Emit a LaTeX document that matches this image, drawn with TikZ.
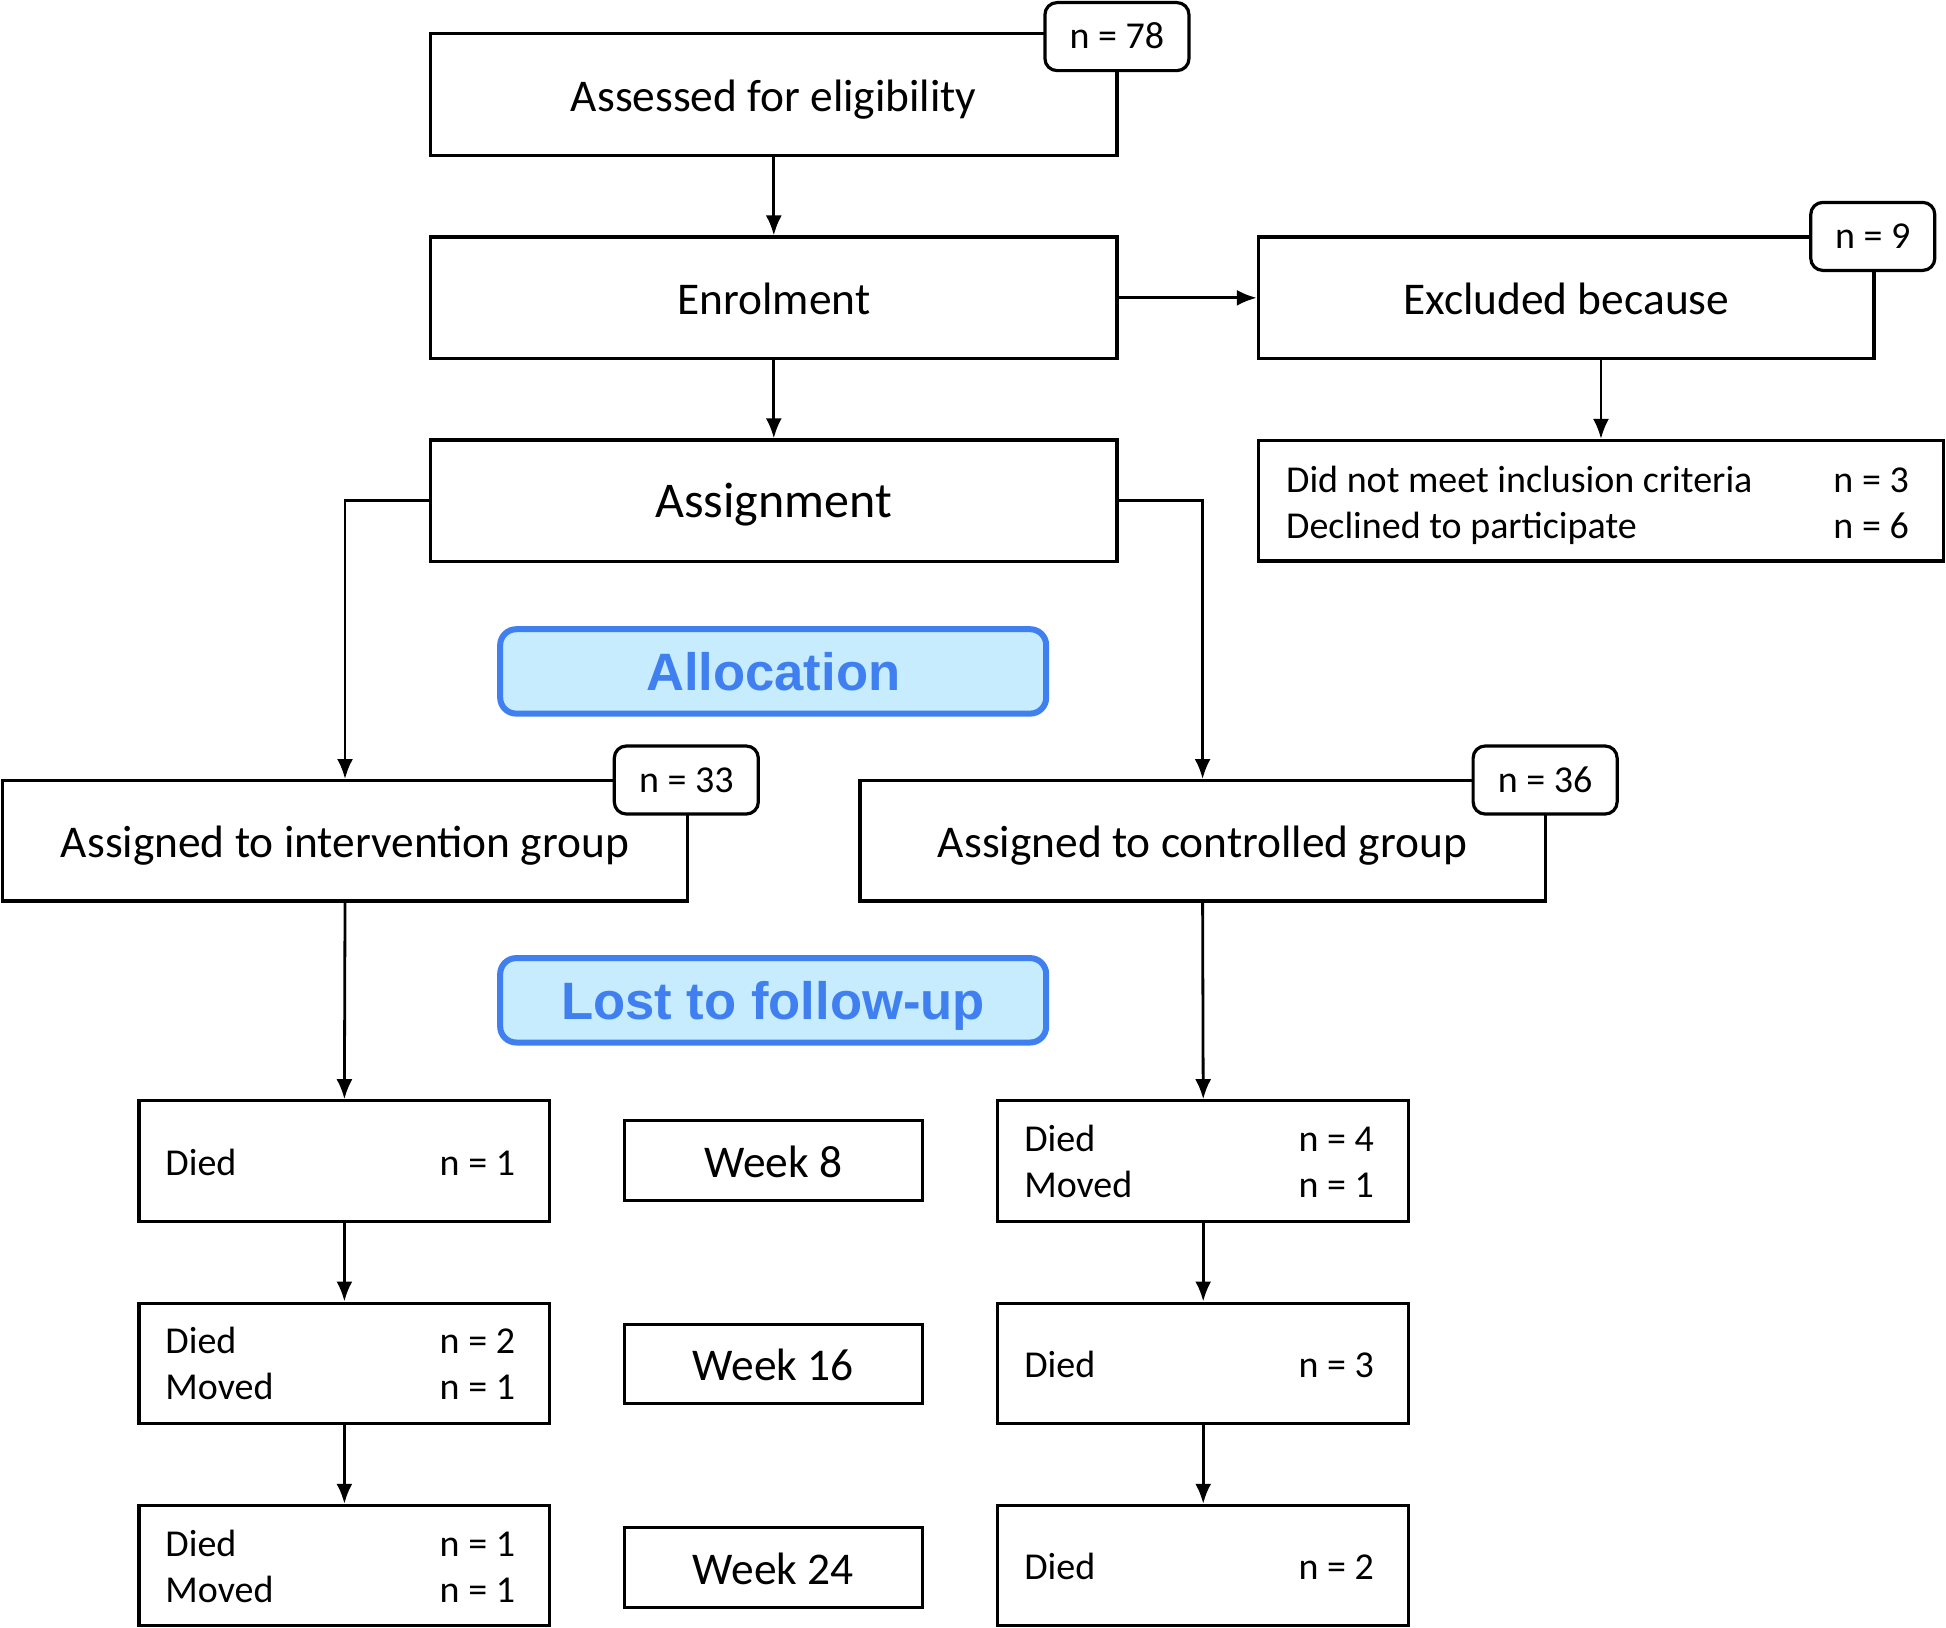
\documentclass[tikz,border=0pt]{standalone}
\usepackage{fontspec}
\setmainfont{Carlito}
\newfontfamily\arialfam{Liberation Sans}
\usetikzlibrary{arrows.meta}
\definecolor{allocblue}{HTML}{3F7FEF}
\definecolor{allocfill}{HTML}{C6ECFD}
\begin{document}
\begin{tikzpicture}[x=0.6205pt,y=-0.6205pt,
  box/.style={draw, line width=1.6pt, fill=white, inner sep=0pt},
  big/.style={font=\fontsize{22.7}{27}\selectfont, text height=17pt, text depth=0pt},
  bigger/.style={font=\fontsize{25}{30}\selectfont, text height=17pt, text depth=0pt},
  small/.style={font=\fontsize{19}{23}\selectfont, text height=12.2pt, text depth=0pt},
  mainbox/.style={box, big, minimum width=343.1pt, minimum height=60.8pt},
  groupbox/.style={box, big, minimum width=342.5pt, minimum height=60.2pt},
  lossbox/.style={box, minimum width=205.4pt, minimum height=60.2pt},
  weekbox/.style={box, big, minimum width=148.9pt, minimum height=39.7pt},
  badge/.style={draw, line width=1.6pt, fill=white, rounded corners=6pt, minimum width=72pt, minimum height=34pt, inner sep=0pt, small},
  lbl/.style={anchor=west, inner sep=0pt, small},
  arr/.style={line width=1.4pt, -{Latex[length=10pt,width=8pt]}},
  banner/.style={draw=allocblue, fill=allocfill, line width=3pt, rounded corners=8pt, minimum width=273pt, minimum height=42.2pt, text=allocblue, inner sep=0pt, text height=18.8pt, text depth=0pt, font=\arialfam\bfseries\fontsize{26.3}{31}\selectfont}]
\useasboundingbox (0,0) rectangle (1568,1311);

% top column
\node[mainbox] (assess) at (623.5,76) {Assessed for eligibility};
\node[mainbox] (enrol) at (623.5,240) {Enrolment};
\node[mainbox, bigger] (assign) at (623.5,403.5) {Assignment};
\node[box, big, minimum width=307.8pt, minimum height=60.8pt] (excl) at (1262,240) {Excluded because};
\node[box, minimum width=342.5pt, minimum height=60.2pt] (crit) at (1290,403.5) {};
\node[lbl] (critA) at (1036,387) {Did not meet inclusion criteria};
\node[lbl] (critAn) at (1477,387) {n = 3};
\node[lbl] (critB) at (1036,424) {Declined to participate};
\node[lbl] (critBn) at (1477,424) {n = 6};

% banners
\node[banner] (alloc) at (623,541) {Allocation};
\node[banner] (lost) at (623,806) {Lost to follow-up};

% groups
\node[groupbox] (inter) at (278,677.5) {Assigned to intervention group};
\node[groupbox] (ctrl) at (969,677.5) {Assigned to controlled group};

% left losses
\node[lossbox] (l1) at (277.5,935.5) {};
\node[lossbox] (l2) at (277.5,1098.5) {};
\node[lossbox] (l3) at (277.5,1261.5) {};
\node[lbl] (l1a) at (133,937) {Died};
\node[lbl] (l1an) at (354,937) {n = 1};
\node[lbl] (l2a) at (133,1081) {Died};
\node[lbl] (l2an) at (354,1081) {n = 2};
\node[lbl] (l2b) at (133,1118) {Moved};
\node[lbl] (l2bn) at (354,1118) {n = 1};
\node[lbl] (l3a) at (133,1244) {Died};
\node[lbl] (l3an) at (354,1244) {n = 1};
\node[lbl] (l3b) at (133,1281) {Moved};
\node[lbl] (l3bn) at (354,1281) {n = 1};

% weeks
\node[weekbox] (w1) at (623,935) {Week 8};
\node[weekbox] (w2) at (623,1099) {Week 16};
\node[weekbox] (w3) at (623,1263) {Week 24};

% right losses
\node[lossbox] (r1) at (969.5,935.5) {};
\node[lossbox] (r2) at (969.5,1098.5) {};
\node[lossbox] (r3) at (969.5,1261.5) {};
\node[lbl] (r1a) at (825,918) {Died};
\node[lbl] (r1an) at (1046,918) {n = 4};
\node[lbl] (r1b) at (825,955) {Moved};
\node[lbl] (r1bn) at (1046,955) {n = 1};
\node[lbl] (r2a) at (825,1100) {Died};
\node[lbl] (r2an) at (1046,1100) {n = 3};
\node[lbl] (r3a) at (825,1263) {Died};
\node[lbl] (r3an) at (1046,1263) {n = 2};

% connectors
\draw[arr] (assess.south) -- (enrol.north);
\draw[arr] (enrol.east) -- (excl.west);
\draw[arr] (crit.north |- excl.south) -- (crit.north);
\draw[arr] (enrol.south) -- (assign.north);
\draw[arr] (assign.west) -| (inter.north);
\draw[arr] (assign.east) -| (ctrl.north);
\draw[arr] (inter.south) -- (l1.north);
\draw[arr] (l1.south) -- (l2.north);
\draw[arr] (l2.south) -- (l3.north);
\draw[arr] (ctrl.south) -- (r1.north);
\draw[arr] (r1.south) -- (r2.north);
\draw[arr] (r2.south) -- (r3.north);

% badges
\node[badge] (b78) at (900,29.5) {n = 78};
\node[badge, minimum width=62pt] (b9) at (1509,190.5) {n = 9};
\node[badge] (b33) at (553,628.5) {n = 33};
\node[badge] (b36) at (1245,628.5) {n = 36};
\end{tikzpicture}
\end{document}
